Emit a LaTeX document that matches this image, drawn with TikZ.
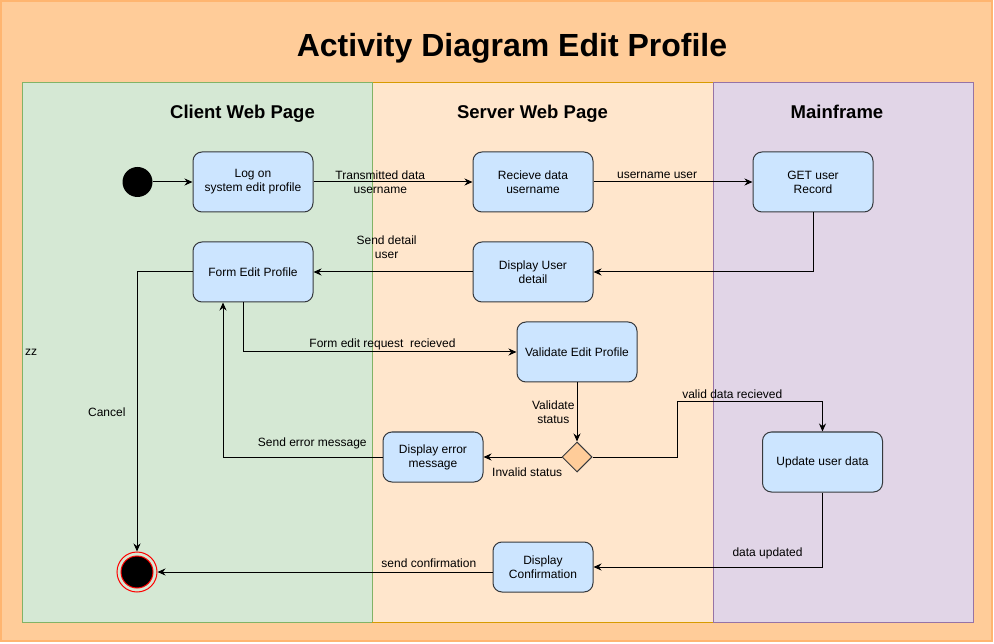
\documentclass[tikz,border=0pt]{standalone}
\usepackage{fontspec}
\setmainfont{Liberation Sans}
\usetikzlibrary{arrows.meta, positioning, shapes.geometric}

\definecolor{framefill}{HTML}{FFCC99}
\definecolor{frameline}{HTML}{FFB570}
\definecolor{clientfill}{HTML}{D5E8D4}
\definecolor{clientline}{HTML}{82B366}
\definecolor{serverfill}{HTML}{FFE6CC}
\definecolor{serverline}{HTML}{D79B00}
\definecolor{mainfill}{HTML}{E1D5E7}
\definecolor{mainline}{HTML}{9673A6}
\definecolor{actfill}{HTML}{CCE5FF}
\definecolor{actline}{HTML}{36393D}

\begin{document}
\begin{tikzpicture}[
    x=1pt, y=-1pt,
    >={Stealth[length=8pt, width=7pt]},
    font=\fontsize{12}{14}\selectfont,
    act/.style={rectangle, rounded corners=9pt, draw=actline, fill=actfill, line width=1pt,
        minimum width=120pt, minimum height=60pt, align=center, inner sep=2pt},
    smallact/.style={act, minimum width=100pt, minimum height=50pt},
    decision/.style={diamond, aspect=1, draw=actline, fill=framefill, line width=1pt,
        minimum width=30pt, minimum height=30pt, inner sep=0pt},
    lbl/.style={draw=none, align=center, inner sep=2pt},
    lanehead/.style={anchor=base, font=\fontsize{18.5}{22}\selectfont\bfseries},
    flow/.style={->, line width=1pt}
]
\useasboundingbox (0,0) rectangle (994,644);

% --- Frame and lanes ---
\fill[white] (0,0) rectangle (994,644);
\draw[fill=framefill, draw=frameline, line width=2pt] (1,1) rectangle (992,641);
\draw[fill=clientfill, draw=clientline] (22,82) rectangle (372,622);
\draw[fill=serverfill, draw=serverline] (372,82) rectangle (713,622);
\draw[fill=mainfill, draw=mainline] (713,82) rectangle (973,622);
\draw[clientline] (372,82) -- (372,622);

\node (title) [anchor=base, font=\fontsize{32}{38}\selectfont\bfseries] at (512,57) {Activity Diagram Edit Profile};
\node (client) [lanehead] at (242.5,119) {Client Web Page};
\node (server) [lanehead] at (532.5,119) {Server Web Page};
\node (mainframe) [lanehead] at (837,119) {Mainframe};
\node (zz) [lbl, anchor=west] at (23,352) {zz};

% --- Nodes ---
\node (start) [circle, fill=black, minimum size=30pt, inner sep=0pt] at (137.5,182) {};
\node (logon) [act] at (253,182) {Log on\\system edit profile};
\node (recv) [act] at (533,182) {Recieve data\\username};
\node (get) [act] at (813,182) {GET user\\Record};
\node (fep) [act] at (253,272) {Form Edit Profile};
\node (disp) [act] at (533,272) {Display User\\detail};
\node (val) [act] at (577,352) {Validate Edit Profile};
\node (dec) [decision] at (577,457) {};
\node (err) [smallact] at (433,457) {Display error\\message};
\node (upd) [act] at (822.5,462) {Update user data};
\node (conf) [smallact] at (543,567) {Display\\Confirmation};
\node (end) [circle, draw=red, line width=1pt, minimum size=40pt, inner sep=0pt] at (137,572) {};
\node (endcore) [circle, fill=black, draw=red, line width=1pt, minimum size=32pt, inner sep=0pt] at (end) {};
\coordinate (vbend) at (677,402);

% --- Edges with labels ---
\draw[flow] (start) -- (logon);
\draw[flow] (logon) -- node[lbl, pos=0.42] {Transmitted data\\username} (recv);
\draw[flow] (recv) -- node[lbl, above, pos=0.4, yshift=1pt] {username user} (get);
\draw[flow] (get) |- (disp);
\draw[flow] (disp) -- node[lbl, pos=0.54, yshift=25pt] {Send detail\\user} (fep);
\draw[flow] ([xshift=-10pt]fep.south) |- node[lbl, above, pos=0.755] {Form edit request\ \ recieved} (val);
\draw[flow] (val) -- node[lbl, left] {Validate\\status} (dec);
\draw[flow] (dec) -- node[lbl, pos=0.44, yshift=-15pt] {Invalid status} (err);
\draw[flow] (dec) -| (vbend) -| node[lbl, above, pos=0.19, yshift=1pt] {valid data recieved} (upd);
\draw[flow] (err) -| node[lbl, above, pos=0.22, yshift=6pt] {Send error message} ([xshift=-30pt]fep.south);
\draw[flow] (fep) -| node[lbl, left=9pt, pos=0.75] {Cancel} (end);
\draw[flow] (upd) |- node[lbl, above, pos=0.62, yshift=6pt] {data updated} (conf);
\draw[flow] ([yshift=-5pt]conf.west) -- node[lbl, above, pos=0.19, yshift=2pt] {send confirmation} (end);

\end{tikzpicture}
\end{document}
